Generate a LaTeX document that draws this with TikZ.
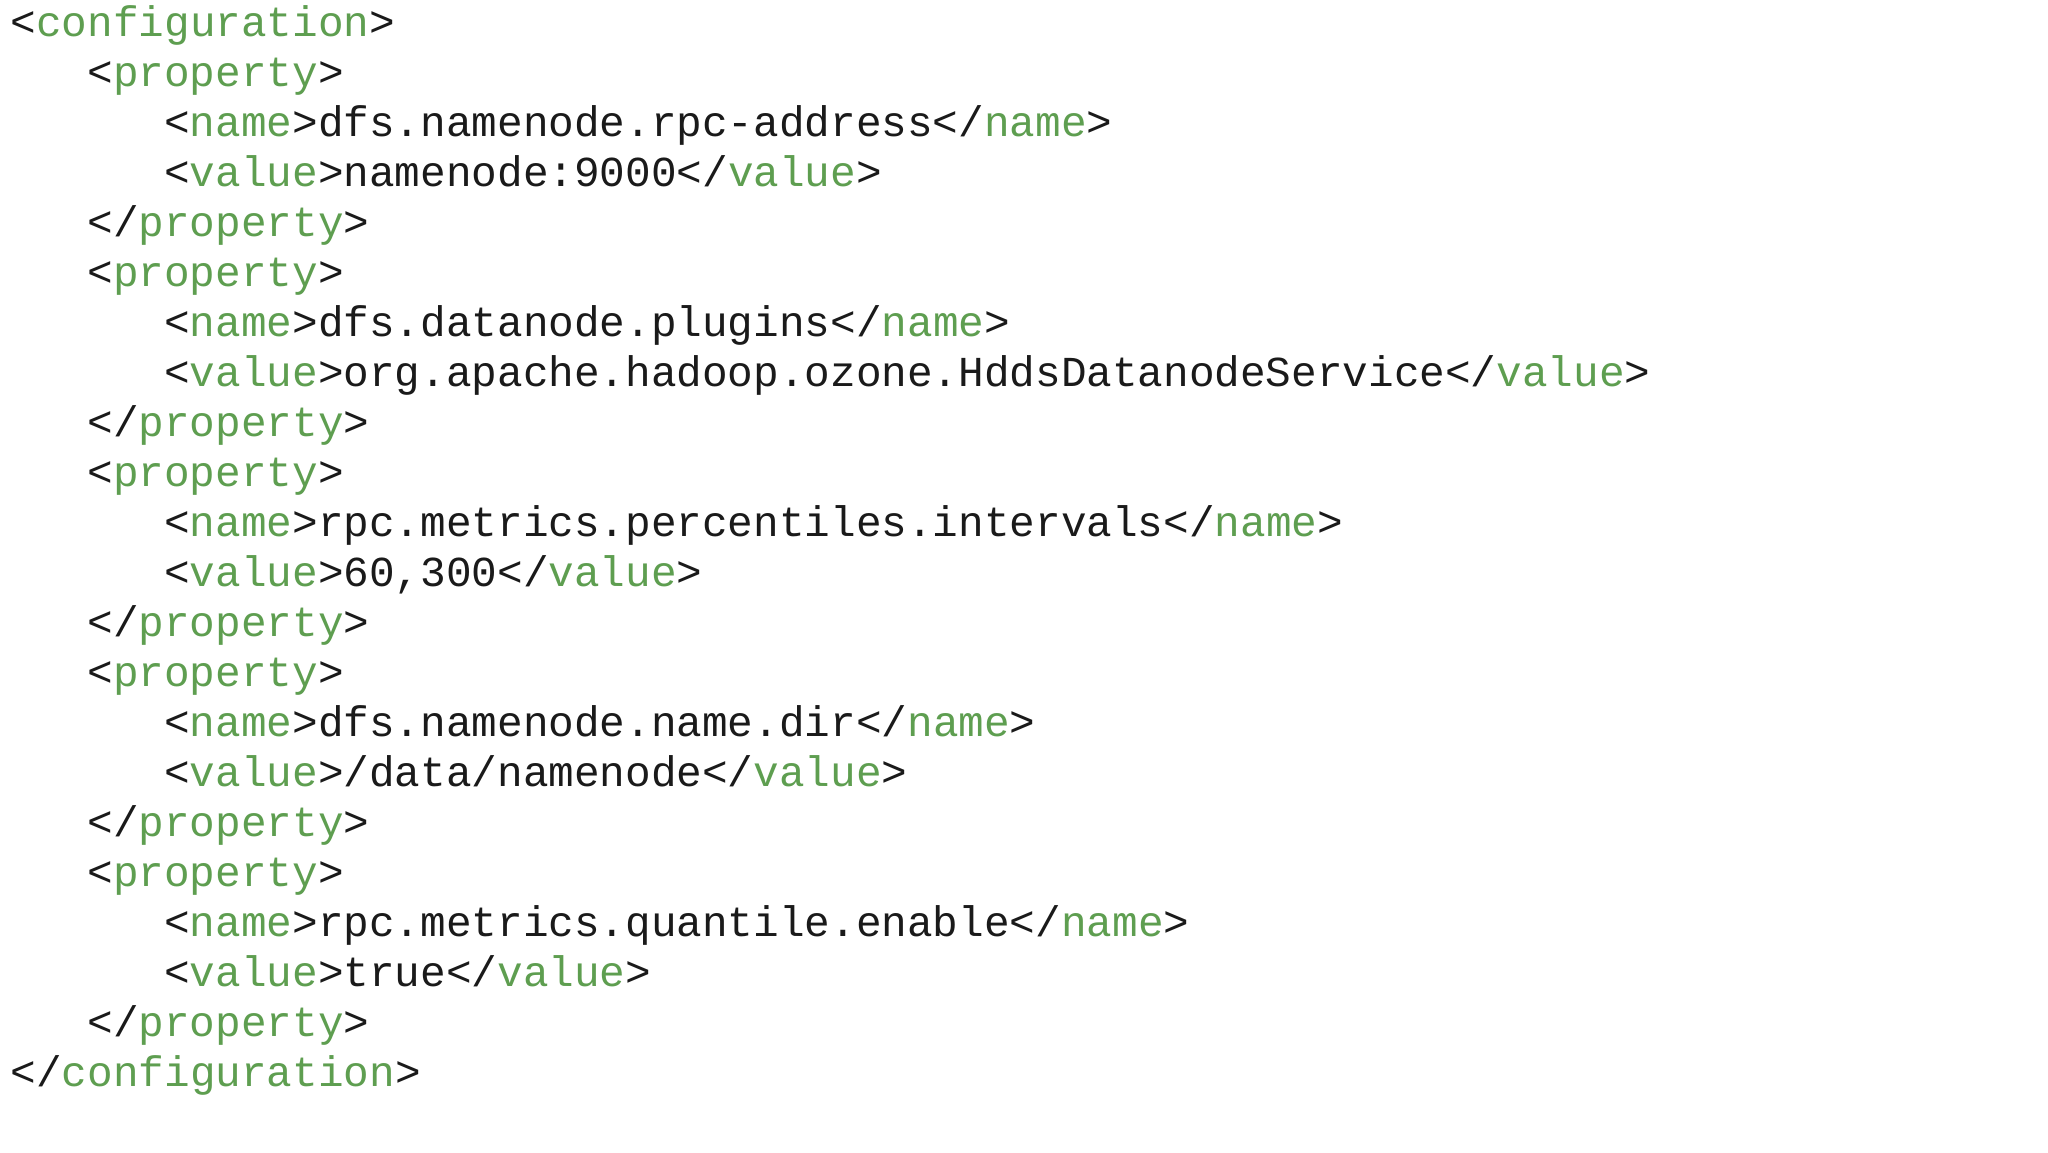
\documentclass[tikz,border=0pt]{standalone}
\usepackage{fontspec}
\setmonofont{Liberation Mono}
\definecolor{tagg}{HTML}{5E9E50}
\definecolor{txt}{HTML}{1A1A1A}
\newcommand{\G}[1]{\textcolor{tagg}{#1}}
\begin{document}
\begin{tikzpicture}[x=1pt,y=1pt,
  codeline/.style={anchor=base west,inner sep=0pt,text=txt,font=\ttfamily\fontsize{42.7}{42.7}\selectfont}]
\useasboundingbox (0,0) rectangle (2048,-1152);
\def\ind{76.8}
\node[codeline] (l0) at (10.5,-36) {<\G{configuration}>};
\node[codeline] (l1) at (10.5+\ind,-86) {<\G{property}>};
\node[codeline] (l2) at (10.5+2*\ind,-136) {<\G{name}>dfs.namenode.rpc-address</\G{name}>};
\node[codeline] (l3) at (10.5+2*\ind,-186) {<\G{value}>namenode:9000</\G{value}>};
\node[codeline] (l4) at (10.5+\ind,-236) {</\G{property}>};
\node[codeline] (l5) at (10.5+\ind,-286) {<\G{property}>};
\node[codeline] (l6) at (10.5+2*\ind,-336) {<\G{name}>dfs.datanode.plugins</\G{name}>};
\node[codeline] (l7) at (10.5+2*\ind,-386) {<\G{value}>org.apache.hadoop.ozone.HddsDatanodeService</\G{value}>};
\node[codeline] (l8) at (10.5+\ind,-436) {</\G{property}>};
\node[codeline] (l9) at (10.5+\ind,-486) {<\G{property}>};
\node[codeline] (l10) at (10.5+2*\ind,-536) {<\G{name}>rpc.metrics.percentiles.intervals</\G{name}>};
\node[codeline] (l11) at (10.5+2*\ind,-586) {<\G{value}>60,300</\G{value}>};
\node[codeline] (l12) at (10.5+\ind,-636) {</\G{property}>};
\node[codeline] (l13) at (10.5+\ind,-686) {<\G{property}>};
\node[codeline] (l14) at (10.5+2*\ind,-736) {<\G{name}>dfs.namenode.name.dir</\G{name}>};
\node[codeline] (l15) at (10.5+2*\ind,-786) {<\G{value}>/data/namenode</\G{value}>};
\node[codeline] (l16) at (10.5+\ind,-836) {</\G{property}>};
\node[codeline] (l17) at (10.5+\ind,-886) {<\G{property}>};
\node[codeline] (l18) at (10.5+2*\ind,-936) {<\G{name}>rpc.metrics.quantile.enable</\G{name}>};
\node[codeline] (l19) at (10.5+2*\ind,-986) {<\G{value}>true</\G{value}>};
\node[codeline] (l20) at (10.5+\ind,-1036) {</\G{property}>};
\node[codeline] (l21) at (10.5,-1086) {</\G{configuration}>};
\end{tikzpicture}
\end{document}
